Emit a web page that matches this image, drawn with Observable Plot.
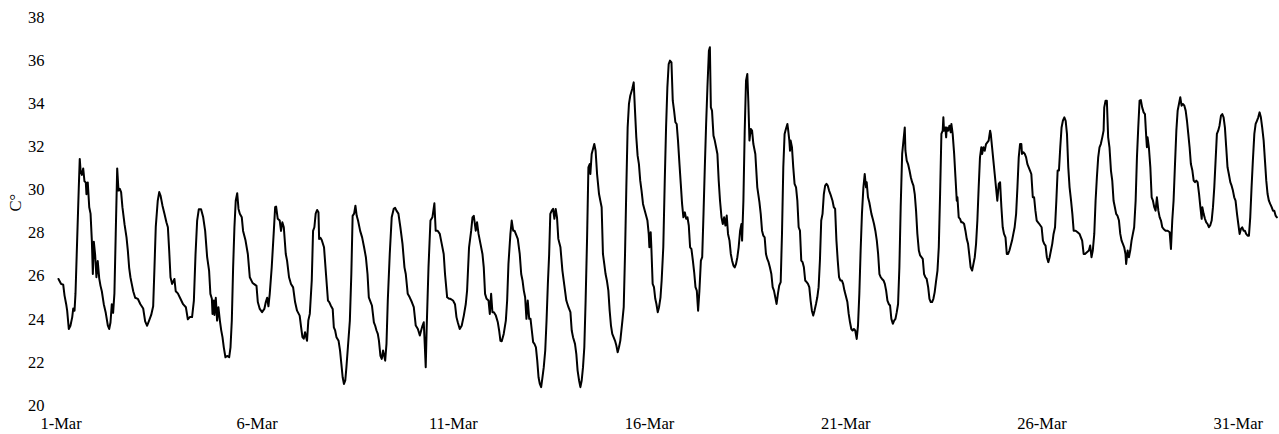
<!DOCTYPE html>
<html><head><meta charset="utf-8">
<script src="https://cdn.jsdelivr.net/npm/d3@7"></script>
<script src="https://cdn.jsdelivr.net/npm/@observablehq/plot@0.6"></script>
<style>html,body{margin:0;padding:0;background:#fff}#chart svg{display:block}</style>
</head><body><div id="chart"></div>
<script>
// [hours since 1-Mar 00:00, temperature °C]
const seg1 = [[0,25.87],[1.6,25.64],[2.9,25.6],[3.7,25.1],[4.7,24.7],[5.3,24.4],[6.3,23.55],[7.3,23.7],[8.4,24.1],[9,24.5],[9.8,24.4],[10.4,25.2],[11.4,27.65],[12.4,30.1],[13,31.44],[13.5,30.9],[14.3,30.7],[15.1,31.0],[15.9,30.4],[16.7,30.35],[17.1,29.8],[17.9,30.35],[18.8,29.2],[19.6,28.9],[20.4,27.65],[21,26.1],[21.6,27.6],[22.4,27.0],[23.2,25.95],[24,26.7],[24.9,25.9],[25.7,25.55],[26.5,25.3],[27.7,24.7],[28.9,24.3],[30.2,23.7],[31,23.55],[31.8,23.85],[32.6,24.7],[33.4,24.3],[34.2,25.2],[35,27.96],[35.9,31.0],[36.7,29.97],[37.5,30.05],[38.3,29.9],[39.1,29.2],[40.4,28.4],[41.6,27.8],[42.4,27.2],[43.2,26.4],[44,25.95],[44.8,25.64],[45.7,25.3],[46.9,25.0],[48.5,24.95],[50.1,24.7],[51.8,24.5],[53,23.9],[54.2,23.7],[55.4,23.94],[56.7,24.2],[57.9,24.6],[58.7,26.4],[59.5,28.3],[60.7,29.5],[61.6,29.9],[62.4,29.74],[63.6,29.27],[64.8,28.9],[66,28.5],[66.9,28.27],[67.7,27.19],[68.5,25.95],[69.5,25.64],[70.9,25.87],[71.7,25.3],[73,25.2],[74.6,24.95],[76.2,24.7],[77.9,24.56],[79.1,24.0],[80.3,24.1],[81.7,24.1],[82.8,24.87],[83.8,27.0],[84.8,28.58],[85.8,29.1],[87.2,29.1],[88.5,28.73],[89.7,28.1],[90.9,26.9],[92.1,26.26],[92.9,25.18],[93.8,24.95],[94.2,24.25],[95,24.87],[95.4,24.2],[96.2,25.0],[97,23.94],[97.8,24.56],[98.7,23.94],[99.5,23.5],[100.3,23.17],[101.1,22.7],[102.1,22.24],[103.1,22.3],[104.4,22.24],[105.2,22.7],[106,23.94],[106.8,26.4],[107.6,28.27],[108.4,29.5],[109.3,29.85],[110.1,29.12],[110.9,28.9],[112.1,28.73],[112.9,28.1],[114.4,27.65],[115.8,27.03],[117,25.95],[118.6,25.7]];
const seg2 = [[119.5,25.64],[121.1,25.55],[121.9,24.8],[123.1,24.48],[124.5,24.33],[125.9,24.48],[126.8,24.8],[127.6,25.0],[128.4,24.6],[129.2,25.18],[130.4,26.4],[131.7,28.1],[132.5,29.2],[133.1,29.23],[134.1,28.66],[135.3,28.58],[136.1,28.1],[136.9,28.5],[137.8,28.27],[139,27.03],[139.8,26.72],[141,25.95],[142.2,25.64],[143.5,25.48],[144.7,24.8],[145.9,24.4],[147.5,24.17],[148.4,23.63],[149.2,23.17],[150,23.1],[150.8,23.4],[152,23.0],[152.8,23.94],[153.7,24.25],[154.9,25.8],[155.7,28.1],[156.5,28.27],[157.3,28.9],[158.2,29.07],[159,28.97],[159.4,27.73],[160.2,27.78],[161,27.68],[162.4,27.34],[163.6,26.1],[164.8,24.87],[165.6,24.8],[166.5,24.64],[167.7,24.48],[168.4,23.63],[169.2,23.48],[170,23.17],[171.3,23.0],[172.2,22.55],[173,21.93],[173.8,21.31],[174.6,21.0],[175.4,21.16],[176.1,21.78],[177,22.7],[178.2,23.94],[179.1,26.1],[179.9,28.8],[180.8,28.9],[181.6,29.27],[182.4,28.8],[183.2,28.58],[184.5,28.1],[185.7,27.8],[186.9,27.34],[188,26.88],[189,26.1],[189.8,25.02],[190.9,24.8],[191.7,24.64],[192.9,23.86],[193.7,23.7],[194.5,23.48],[195.3,23.32],[196,23.0],[196.9,22.3],[197.7,22.16],[198.5,22.55],[199.8,22.08],[200.6,22.86],[201.4,24.87],[202.6,27.03],[203.8,28.73],[205,29.12],[205.9,29.17],[206.7,29.04],[207.9,28.9],[209.1,28.27],[210.4,27.5],[211.6,26.41],[212.4,26.1],[213.6,25.18],[214.8,25.02],[216.1,24.8],[217.3,24.56],[218.5,23.71],[219.8,23.55],[221,23.25],[221.8,23.48],[222.6,23.7],[223.4,23.86],[224,22.86],[224.6,21.78],[225.2,23.63],[226.3,26.41],[227.5,28.58],[228.7,28.73],[229.9,29.38],[230.7,28.11],[231.9,28.11],[233.2,27.96],[234.4,27.5],[235.6,27.03],[236.4,26.1],[237.7,25.02],[238.9,24.95]];
const seg3 = [[239.7,24.95],[241.3,24.87],[242.5,24.7],[243.4,24.1],[244.2,23.86],[245.4,23.55],[246.6,23.7],[247.9,24.17],[249.1,24.71],[249.9,25.33],[251.1,27.34],[252.4,28.11],[253.2,28.73],[254,28.8],[255.2,28.11],[256,28.5],[256.9,27.96],[258.1,27.5],[259.3,27.03],[260.1,26.41],[260.9,25.18],[261.8,24.95],[263,24.87],[263.8,24.25],[264.6,25.18],[265.4,24.33],[266.3,24.33],[267.5,24.17],[268.7,23.86],[269.5,23.48],[270.3,23.0],[271.1,22.98],[272.3,23.32],[273.6,23.94],[274.4,24.87],[275.2,26.57],[276.4,27.96],[277.2,28.58],[278.1,28.11],[278.9,28.11],[279.7,27.96],[280.9,27.73],[282.1,27.03],[283,26.1],[283.8,25.8],[284.6,25.33],[285.4,25.02],[286.2,24.02],[287,24.87],[287.9,24.02],[288.7,24.02],[289.5,23.48],[290.3,22.94],[291.1,22.86],[292,22.7],[292.8,22.09],[293.6,21.31],[294.4,21.0],[295.2,20.85],[296,21.31],[296.8,21.78],[297.7,22.55],[298.5,23.94],[299.3,25.64],[300.1,27.03],[300.8,28.89],[301.7,29.04],[302.5,29.12],[303.3,28.66],[304.1,29.12],[304.9,28.73],[305.7,27.73],[307,27.34],[308.2,26.26],[309.4,25.56],[310.6,24.87],[311.9,24.56],[313.1,24.33],[313.9,23.48],[314.7,23.17],[315.9,22.86],[316.7,22.4],[317.5,21.62],[318.4,21.16],[319.2,20.85],[320,21.16],[320.8,21.78],[321.6,22.7],[322.4,24.87],[323.3,27.8],[324.1,31.05],[324.9,31.2],[325.3,30.74],[326.1,31.67],[326.9,31.9],[327.7,32.13],[328.5,31.82],[329.4,30.74],[330.6,29.81],[331.4,29.5],[332.2,29.2],[333,27.03],[333.8,26.57],[334.6,26.1],[335.4,25.8],[336.3,25.33],[337.1,24.4],[337.9,23.71],[338.7,23.32],[339.5,23.17],[340.4,23.0],[341.2,22.78],[342,22.47],[342.8,22.7],[343.6,23.0],[344.9,23.94],[345.7,24.56],[346.5,27.03],[347.3,30.12],[348.1,32.9],[348.9,33.99],[349.7,34.37],[350.9,34.68],[351.8,34.99],[352.6,33.68],[353.4,32.44],[354.2,31.59],[355,31.2],[355.8,30.43],[356.6,29.97],[357.5,29.35],[358.3,29.12]];
const seg4 = [[360.2,28.58],[361,27.96],[361.4,27.34],[362.2,28.04],[362.6,27.34],[363.4,25.64],[364.2,25.49],[365,24.95],[365.7,24.71],[366.5,24.33],[367.3,24.56],[368.2,25.02],[368.9,25.8],[369.9,27.34],[370.8,30.43],[371.6,32.9],[372.4,34.76],[373.2,35.84],[374,36.0],[374.9,35.92],[375.7,34.14],[376.5,33.68],[377.3,33.14],[378.1,33.06],[378.9,32.29],[379.8,31.2],[380.6,30.28],[381.4,29.35],[382.2,28.73],[383.1,28.96],[383.9,28.66],[384.7,28.73],[385.5,28.35],[386.3,27.34],[387.1,27.27],[388,26.72],[388.8,26.18],[389.6,25.49],[390.4,25.33],[391.2,24.4],[392,25.33],[392.9,26.72],[393.7,26.88],[394.5,28.89],[395.3,31.05],[396.1,33.06],[396.9,34.76],[397.8,36.46],[398.4,36.62],[399,33.83],[399.7,33.68],[400.6,32.52],[401.4,32.29],[402.2,31.98],[403,31.67],[403.8,30.43],[404.6,29.5],[405.5,28.73],[406.3,28.42],[407.1,28.73],[407.9,28.35],[408.7,28.81],[409.5,27.96],[410.4,27.65],[411.2,27.03],[412,26.72],[412.8,26.49],[413.6,26.41],[414.4,26.57],[415.2,26.88],[416,27.34],[416.9,28.11],[417.7,28.42],[418.1,27.65],[418.9,29.5],[419.7,32.75],[420.5,35.07],[421.3,35.38],[421.9,34.14],[422.6,32.29],[423.4,32.83],[424.2,32.75],[425,32.13],[426.2,31.67],[427.4,30.12],[428.7,29.43],[429.5,28.89],[430.3,28.11],[431.1,27.88],[431.9,27.8],[432.7,27.03],[433.5,26.8],[434.3,26.65],[435.1,26.41],[436,26.1],[436.8,25.49],[437.6,25.33],[438.4,25.02],[439.2,24.71],[440,25.18],[440.8,25.56],[441.7,25.72],[442.5,27.96],[443.3,31.05],[444.1,32.6],[444.9,32.83],[445.8,33.06],[446.2,32.83],[447,32.29],[447.4,31.82],[447.8,32.29],[448.6,31.98],[449.4,31.05],[450.2,30.28],[451.1,30.12],[451.9,29.5],[452.7,28.27],[453.5,28.11],[454.3,26.72],[455.1,26.65],[455.9,26.41],[456.7,25.8],[457.6,25.72],[458.4,25.64],[459.2,25.49],[460,24.87],[460.8,24.4],[461.6,24.17],[462.4,24.4],[463.3,24.71],[464.1,25.02],[464.9,25.49],[465.7,26.72],[466.5,28.58],[467.3,28.89],[468.1,29.81],[468.9,30.2],[469.7,30.28],[470.5,30.2],[471.3,29.97],[472.1,29.81],[473.4,29.5],[474.2,29.2],[475,29.12],[475.8,27.65],[476.6,26.72],[477.4,25.95],[478.2,25.8],[479.1,25.8],[479.9,25.64],[480.7,25.33]];
const seg5 = [[482.5,24.8],[483.3,24.25],[484.1,23.86],[484.9,23.55],[485.7,23.48],[486.5,23.55],[487.3,23.48],[488.2,23.09],[489,23.71],[489.8,25.18],[490.6,27.19],[491.4,28.89],[492.3,30.12],[493.1,30.74],[493.9,30.12],[494.3,30.36],[495.1,29.66],[495.9,29.43],[497.2,28.89],[498,28.66],[498.8,28.42],[499.6,28.11],[500.5,27.65],[501.3,27.03],[502.1,26.1],[502.9,25.95],[503.7,25.87],[504.6,25.8],[505.4,25.64],[506.2,25.33],[507,24.87],[507.8,24.71],[508.6,24.64],[509.4,24.02],[510.3,23.79],[511.1,23.94],[511.9,24.02],[512.7,24.33],[513.5,24.71],[514.3,26.41],[515.1,29.2],[516,31.67],[516.8,32.29],[517.6,32.9],[518,31.82],[518.8,31.36],[519.6,31.2],[520.5,30.9],[521.3,30.59],[522.1,30.36],[522.9,30.2],[523.7,29.81],[524.5,29.04],[525.3,27.96],[526.2,27.19],[527,26.96],[527.8,26.88],[528.6,26.8],[529.4,26.1],[530.2,25.95],[531,25.87],[531.9,25.49],[532.7,24.95],[533.5,24.8],[534.3,24.8],[535.1,24.95],[535.9,25.26],[536.8,25.8],[537.6,26.26],[538.4,27.34],[539.2,29.81],[540,32.6],[540.8,32.75],[541.2,33.37],[541.6,32.75],[542.4,32.9],[542.9,32.44],[543.3,32.9],[544.1,32.75],[544.9,32.98],[545.7,32.67],[546.1,33.06],[546.9,32.6],[547.8,31.67],[548.6,30.59],[549.4,29.5],[549.8,29.66],[550.6,28.73],[551.4,28.66],[552.2,28.5],[553,28.5],[553.9,28.42],[554.7,28.11],[555.5,27.73],[556.3,27.5],[557.1,26.96],[557.9,26.41],[558.8,26.26],[559.6,26.57],[560.4,26.88],[561.2,27.5],[562,28.58],[562.8,30.12],[563.6,31.51],[564.4,31.98],[564.9,31.67],[565.7,31.98],[566.5,31.82],[567.3,32.13],[568.1,32.21],[568.9,32.29],[569.8,32.75],[570.2,32.6],[571,31.98],[571.8,31.36],[572.6,30.74],[573.4,30.12],[574.2,29.5],[575.1,30.28],[575.9,30.36],[576.7,29.2],[577.5,28.27],[578.3,27.96],[579.2,27.8],[580,27.03],[580.8,27.03],[581.6,27.19],[582.4,27.42],[583.2,27.65],[584,27.96],[584.8,28.27],[585.7,28.89],[586.5,30.12],[587.3,31.51],[588.1,32.13],[588.9,32.13],[589.3,31.67],[590.1,31.75],[591,31.67],[591.8,31.51],[592.6,31.2],[593.4,31.05],[594.2,30.9],[595,30.74],[595.9,29.66],[596.7,29.66],[597.5,29.04],[598.3,28.58],[599.1,28.5],[599.9,28.42]];
const seg6 = [[601.3,28.27],[602.1,27.65],[602.9,27.5],[603.7,27.42],[604.5,26.88],[605.4,26.65],[606.2,26.88],[607,27.19],[607.8,27.5],[608.6,27.96],[609.5,28.27],[610.3,29.5],[611.1,30.9],[611.9,30.9],[612.7,31.98],[613.5,32.9],[614.3,33.21],[615.2,33.37],[616,33.21],[616.8,32.6],[617.6,31.05],[618.4,30.12],[619.3,29.5],[620.1,28.89],[620.9,28.11],[622.1,28.11],[623.3,28.04],[624.5,27.96],[625.3,27.8],[626.1,27.65],[627,27.03],[627.8,27.03],[629,27.11],[630.2,27.19],[631,27.42],[631.8,26.88],[632.6,27.19],[633.5,27.96],[634.3,29.5],[635.1,30.59],[635.9,31.51],[636.7,31.98],[637.5,32.13],[638.4,32.44],[639.2,32.75],[639.6,33.83],[640.4,34.14],[641.2,34.14],[642,32.44],[642.8,31.98],[643.7,30.9],[644.5,30.43],[645.3,29.5],[646.1,29.2],[646.9,28.89],[647.7,28.8],[648.6,28.58],[649.4,27.96],[650.2,27.65],[651,27.5],[651.8,27.34],[652.6,27.03],[653,26.57],[653.9,27.19],[654.7,26.88],[655.5,27.19],[656.3,27.65],[657.1,27.96],[657.9,28.27],[658.8,29.5],[659.6,31.51],[660.4,32.9],[661.2,34.14],[662,34.17],[662.8,33.83],[663.7,33.6],[664.5,33.52],[665.3,32.44],[665.7,31.98],[666.1,32.44],[666.9,31.98],[667.8,31.05],[668.6,29.66],[669.4,29.5],[670.2,29.2],[671,29.04],[671.8,29.66],[672.7,29.04],[673.5,28.73],[674.3,28.58],[675.1,28.27],[675.9,28.19],[677.1,28.11],[678.4,28.11],[679.6,28.04],[680.4,27.26],[681.2,28.58],[682,29.5],[682.8,31.05],[683.7,32.75],[684.5,33.68],[685.3,33.99],[686.1,34.3],[686.9,33.91],[687.7,33.99],[688.6,33.91],[689.4,33.68],[690.2,33.21],[691,32.6],[691.8,31.98],[692.6,31.2],[693.5,30.9],[694.3,30.43],[695.1,30.36],[695.9,30.43],[696.7,30.36],[697.6,29.81],[698.4,29.2],[699.2,28.66],[699.6,29.2],[700.4,28.89],[701.2,28.66],[702,28.5],[702.8,28.42],[703.6,28.27],[704.4,28.35],[705.3,28.58],[706.1,29.2],[706.9,30.12],[707.7,31.36],[708.5,32.6],[709.3,32.75],[710.1,32.98],[711,33.45],[711.8,33.52],[712.6,33.37],[713.4,32.9],[714.2,31.98],[715,31.05],[715.8,30.74],[716.7,30.36],[717.5,30.2],[718.3,29.97],[719.1,29.66],[719.9,29.5],[720.8,28.89],[721.6,28.42],[722.4,27.96],[723.2,28.19],[724,28.27],[724.8,28.11],[725.6,28.11],[726.4,27.96],[727.3,27.88],[728.1,27.88],[728.9,28.73],[729.7,30.12],[730.5,31.36],[731.4,32.6],[732.2,33.06],[733,33.21],[733.8,33.37],[734.6,33.6],[735.4,33.37],[736.2,32.9],[737.1,32.29],[737.9,31.36],[738.7,30.43],[739.5,29.81],[740.3,29.5],[741.1,29.35],[742,29.2],[742.8,29.04],[743.6,29.04],[744.4,28.81],[745.2,28.73]];

const tickDays = [1, 6, 11, 16, 21, 26, 31];
const yTicks = [20, 22, 24, 26, 28, 30, 32, 34, 36, 38];
const yLabel = "C°";

const base = Date.UTC(2023, 2, 1);
const hour = 3600e3;
const rows = [seg1, seg2, seg3, seg4, seg5, seg6].flat()
  .map(([h, t]) => ({date: new Date(base + h * hour), temp: t}));
const lastHour = seg6[seg6.length - 1][0];

const chart = Plot.plot({
  width: 1279,
  height: 434,
  marginLeft: 58,
  marginRight: 2.6,
  marginTop: 17,
  marginBottom: 29,
  style: {fontFamily: "'Liberation Serif','Times New Roman',serif", fontSize: "16.5px", color: "#000", background: "#fff"},
  x: {type: "utc", domain: [new Date(base), new Date(base + lastHour * hour)]},
  y: {domain: [20, 38]},
  marks: [
    Plot.axisX({ticks: tickDays.map(d => new Date(Date.UTC(2023, 2, d))), tickFormat: d3.utcFormat("%-d-%b"), tickSize: 0, tickPadding: 12, label: null, dx: 2.5}),
    Plot.axisY({ticks: yTicks, tickSize: 0, tickPadding: 14, label: null}),
    Plot.text([yLabel], {text: d => d, frameAnchor: "left", dx: -43, rotate: -90, fontSize: 16.5}),
    Plot.line(rows, {x: "date", y: "temp", stroke: "#000", strokeWidth: 2})
  ]
});
document.getElementById("chart").append(chart);
</script>
</body></html>
